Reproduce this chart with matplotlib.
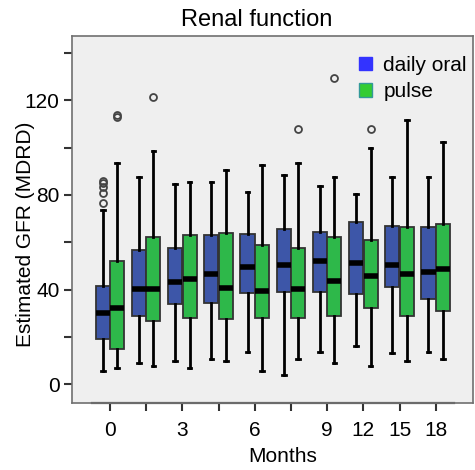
import matplotlib
matplotlib.use("Agg")
import matplotlib.pyplot as plt
from matplotlib.patches import Patch

plt.rcParams['font.family'] = ['Liberation Sans', 'DejaVu Sans']

# month labels (10 visits, only some labelled)
months = ['0', '', '3', '', '6', '', '9', '12', '15', '18']

# daily oral: whisker low, Q1, median, Q3, whisker high
oral_lo = [5.8, 9.1, 9.8, 10.7, 13.8, 3.9, 13.8, 16.2, 13.1, 13.8]
oral_q1 = [19.0, 29.0, 33.9, 34.5, 38.5, 39.0, 39.0, 38.0, 41.0, 35.9]
oral_med = [30.0, 40.1, 43.4, 46.5, 49.6, 50.6, 52.1, 51.1, 50.6, 47.6]
oral_q3 = [41.5, 56.6, 57.5, 63.0, 63.5, 65.5, 64.5, 68.5, 67.0, 66.5]
oral_hi = [73.7, 87.7, 84.7, 85.6, 81.4, 88.6, 83.7, 80.6, 87.7, 87.7]
oral_out = [[76.8, 80.7, 83.5, 85.0, 86.0], [], [], [], [], [], [], [], [], []]

# pulse
pulse_lo = [6.8, 7.9, 6.8, 9.8, 5.8, 10.8, 9.1, 7.9, 9.8, 10.8]
pulse_q1 = [14.9, 26.9, 28.0, 27.5, 28.0, 28.0, 29.0, 32.1, 29.0, 31.0]
pulse_med = [32.1, 40.1, 44.4, 40.8, 39.6, 40.1, 43.5, 45.6, 46.6, 48.6]
pulse_q3 = [52.1, 62.4, 63.0, 64.1, 58.9, 57.5, 62.4, 61.0, 66.5, 67.6]
pulse_hi = [93.7, 98.6, 85.6, 90.6, 92.7, 93.7, 87.7, 99.7, 111.7, 102.5]
pulse_out = [[113.0, 114.0], [121.6], [], [], [], [107.8], [129.6], [107.8], [], []]


def make_stats(lo, q1, med, q3, hi, out):
    stats = []
    for i in range(len(lo)):
        stats.append({'whislo': lo[i], 'q1': q1[i], 'med': med[i],
                      'q3': q3[i], 'whishi': hi[i], 'fliers': out[i]})
    return stats


fig = plt.figure(figsize=(4.75, 4.7), dpi=100)
ax = fig.add_axes([0.1516, 0.1432, 0.8442, 0.7802])
ax.set_facecolor('#efefef')

x = list(range(len(months)))
w = 0.39
common = dict(widths=w, patch_artist=True, showcaps=True,
              capwidths=0.1,
              medianprops=dict(color='black', linewidth=4, solid_capstyle='butt'),
              whiskerprops=dict(color='black', linewidth=2),
              capprops=dict(color='black', linewidth=2),
              flierprops=dict(marker='o', markerfacecolor='none',
                              markeredgecolor='#444444', markersize=5,
                              markeredgewidth=1.3))

b1 = ax.bxp(make_stats(oral_lo, oral_q1, oral_med, oral_q3, oral_hi, oral_out),
            positions=[i - 0.2 for i in x], **common)
b2 = ax.bxp(make_stats(pulse_lo, pulse_q1, pulse_med, pulse_q3, pulse_hi, pulse_out),
            positions=[i + 0.2 for i in x], **common)
for p in b1['boxes']:
    p.set_facecolor('#3d56a8')
    p.set_edgecolor('#333333')
    p.set_linewidth(1.3)
for p in b2['boxes']:
    p.set_facecolor('#2eb84a')
    p.set_edgecolor('#333333')
    p.set_linewidth(1.3)

ax.set_xlim(-1.05, 10.03)
ax.set_ylim(-7.8, 147.2)
ax.set_xticks(x)
ax.set_xticklabels(months)
ax.set_yticks(range(0, 141, 20))
ax.set_yticklabels([str(v) if v % 40 == 0 else '' for v in range(0, 141, 20)])
ax.tick_params(axis='both', labelsize=15, colors='#333333', labelcolor='black',
               width=1.5, length=6)
ax.tick_params(axis='x', pad=7)
ax.tick_params(axis='y', pad=3)

for s in ['top', 'left', 'right', 'bottom']:
    ax.spines[s].set_color('#707070')
    ax.spines[s].set_linewidth(1.2)
ax.axhline(-7.8, xmin=(-0.5 + 1.05) / 11.08, xmax=(9.5 + 1.05) / 11.08,
           color='#555555', linewidth=1.6, clip_on=False)

handles = [Patch(facecolor='#3333ff', edgecolor='#3333ff'),
           Patch(facecolor='#33cc33', edgecolor='#339999')]
ax.legend(handles, ['daily oral', 'pulse'], loc='upper left',
          bbox_to_anchor=(359 / 475, 1 - 56 / 470), bbox_transform=fig.transFigure,
          frameon=False, fontsize=15, handlelength=0.62, handleheight=0.62,
          handletextpad=0.55, labelspacing=0.35, borderpad=0, borderaxespad=0)

fig.text(257 / 475, 1 - 26 / 470, 'Renal function', fontsize=17,
         ha='center', va='baseline')
fig.text(26 / 475, 1 - 234 / 470, 'Estimated GFR (MDRD)', fontsize=15,
         rotation=90, ha='center', va='center')
fig.text(283 / 475, 1 - 456 / 470, 'Months', fontsize=15,
         ha='center', va='center')

fig.savefig('out.png', dpi=100)
